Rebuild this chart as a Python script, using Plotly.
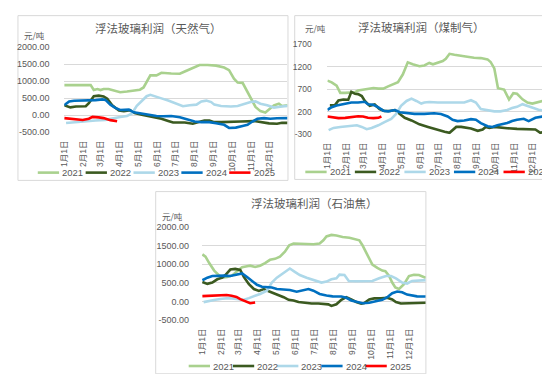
import plotly.graph_objects as go

W, H = 550, 374

years = ["2021", "2022", "2023", "2024", "2025"]
colors = ["#A9D18E", "#3B5A20", "#ADD8E9", "#0070C0", "#FF0000"]

month_days = [0, 31, 59, 90, 120, 151, 181, 212, 243, 273, 304, 334]
month_labels = ["1月1日", "2月1日", "3月1日", "4月1日", "5月1日", "6月1日",
                "7月1日", "8月1日", "9月1日", "10月1日", "11月1日", "12月1日"]

# ---------------- 浮法玻璃利润（天然气） ----------------
ng_2021_d = [0, 43, 48, 54, 59, 64, 72, 81, 91, 102, 113, 123, 129, 140, 150, 158, 174, 188, 196, 209, 220, 233, 247, 260, 268, 276, 282, 290, 298, 311, 319, 327, 341, 349, 354, 363]
ng_2021_v = [880, 880, 735, 765, 735, 765, 765, 717, 670, 690, 727, 746, 812, 1166, 1166, 1243, 1224, 1214, 1280, 1377, 1472, 1472, 1453, 1396, 1320, 1070, 956, 947, 670, 239, 115, 76, 287, 335, 268, 287]
ng_2022_d = [0, 10, 19, 35, 40, 48, 56, 64, 70, 78, 89, 97, 107, 113, 126, 142, 158, 169, 177, 196, 209, 217, 228, 236, 244, 255, 271, 287, 309, 319, 333, 346, 354, 363]
ng_2022_v = [290, 225, 250, 260, 350, 554, 570, 545, 478, 287, 130, 110, 143, 67, 10, -40, -110, -172, -220, -220, -255, -210, -160, -165, -210, -210, -210, -191, -178, -205, -245, -255, -225, -230]
ng_2023_d = [3, 19, 35, 51, 67, 78, 91, 102, 110, 118, 126, 134, 140, 148, 158, 169, 183, 193, 204, 215, 223, 231, 239, 244, 255, 271, 282, 293, 303, 311, 319, 330, 341, 354, 363]
ng_2023_v = [-235, -205, -172, -162, -143, -96, -60, -29, 48, 270, 420, 554, 595, 540, 490, 430, 335, 258, 287, 306, 401, 425, 382, 306, 268, 250, 265, 335, 382, 401, 335, 287, 220, 250, 270]
ng_2024_d = [0, 8, 16, 30, 40, 51, 62, 67, 75, 83, 91, 105, 113, 126, 140, 150, 161, 174, 188, 201, 212, 223, 236, 247, 260, 268, 279, 290, 298, 306, 314, 325, 335, 346, 357, 363]
ng_2024_v = [290, 401, 420, 420, 420, 440, 460, 445, 306, 210, 150, 160, 80, 40, 19, -29, -35, -30, -67, -124, -191, -210, -210, -239, -287, -380, -370, -320, -287, -191, -110, -90, -110, -95, -85, -90]
ng_2025_d = [0, 13, 30, 40, 46, 56, 64, 75, 86]
ng_2025_v = [-90, -115, -145, -110, -55, -70, -90, -150, -185]

# ---------------- 浮法玻璃利润（煤制气） ----------------
cg_2021_d = [0, 7, 15, 21, 29, 37, 45, 50, 58, 66, 75, 83, 91, 99, 107, 115, 123, 131, 139, 150, 158, 166, 172, 180, 188, 193, 199, 207, 218, 228, 239, 250, 261, 266, 272, 278, 288, 296, 303, 309, 318, 326, 334, 342, 353, 365]
cg_2021_v = [890, 850, 777, 618, 618, 618, 633, 669, 690, 712, 727, 712, 712, 763, 813, 857, 1030, 1295, 1253, 1210, 1225, 1282, 1253, 1290, 1325, 1376, 1485, 1463, 1434, 1420, 1398, 1390, 1362, 1304, 1160, 720, 690, 470, 610, 597, 474, 402, 380, 402, 445, 440]
cg_2022_d = [4, 12, 18, 26, 34, 39, 45, 50, 56, 61, 69, 77, 85, 93, 102, 110, 118, 126, 137, 150, 164, 177, 191, 199, 204, 210, 218, 226, 234, 245, 253, 258, 264, 272, 280, 293, 309, 326, 339, 347, 355, 365]
cg_2022_v = [340, 340, 450, 470, 465, 640, 597, 590, 546, 438, 330, 360, 258, 215, 215, 235, 150, 63, 5, -81, -139, -197, -247, -269, -211, -139, -139, -154, -175, -226, -197, -139, -161, -139, -154, -168, -182, -197, -197, -269, -247, -215]
cg_2023_d = [2, 10, 21, 31, 39, 48, 56, 64, 72, 83, 93, 104, 112, 120, 129, 137, 145, 153, 158, 166, 180, 196, 212, 223, 234, 242, 250, 261, 272, 282, 293, 301, 309, 318, 326, 334, 344, 355, 365]
cg_2023_v = [-211, -161, -139, -125, -118, -103, -139, -190, -161, -103, -31, 41, 150, 330, 438, 489, 438, 380, 402, 416, 402, 402, 416, 402, 453, 402, 258, 236, 207, 207, 236, 279, 308, 366, 330, 279, 243, 222, 207]
cg_2024_d = [0, 7, 15, 23, 31, 39, 50, 61, 66, 75, 83, 91, 99, 110, 118, 129, 142, 158, 174, 185, 196, 204, 212, 223, 234, 242, 250, 261, 269, 277, 285, 293, 301, 309, 320, 328, 339, 350, 358, 365]
cg_2024_v = [240, 300, 335, 360, 385, 405, 405, 420, 366, 352, 294, 222, 207, 236, 186, 164, 150, 150, 164, 150, 92, 20, -9, 5, 34, 20, -53, -125, -139, -103, -81, -53, -9, 20, 41, -9, 63, 92, 92, 121]
cg_2025_d = [0, 7, 18, 29, 39, 50, 58, 66, 75, 83, 88]
cg_2025_v = [92, 77, 56, 63, 77, 99, 92, 63, 56, 63, 92]

# ---------------- 浮法玻璃利润（石油焦） ----------------
pc_2021_d = [1, 6, 12, 20, 28, 33, 41, 49, 57, 65, 73, 78, 86, 94, 102, 110, 118, 126, 134, 141, 148, 158, 169, 180, 190, 196, 201, 209, 217, 227, 238, 246, 254, 259, 267, 275, 283, 291, 296, 302, 307, 312, 318, 326, 334, 342, 350, 361]
pc_2021_v = [1260, 1200, 1027, 826, 696, 635, 652, 696, 809, 913, 940, 957, 922, 957, 1027, 1114, 1140, 1200, 1331, 1505, 1550, 1540, 1535, 1531, 1549, 1636, 1740, 1780, 1766, 1723, 1705, 1679, 1636, 1505, 1244, 983, 896, 826, 809, 679, 505, 374, 331, 461, 679, 715, 705, 635]
pc_2022_d = [1, 9, 17, 25, 33, 38, 46, 54, 62, 68, 76, 84, 92, 100, 108, 116, 124, 132, 140, 148, 156, 166, 177, 188, 196, 204, 209, 217, 225, 233, 241, 249, 257, 262, 270, 278, 289, 299, 307, 313, 321, 331, 342, 350, 361]
pc_2022_v = [520, 470, 505, 592, 635, 705, 853, 870, 845, 652, 461, 331, 280, 330, 270, 220, 183, 113, 43, 26, -17, -43, -55, -55, -70, -80, -120, -78, 43, 113, 52, -17, -61, -43, 52, 80, 80, 96, 52, -17, -55, -55, -55, -43, -35]
pc_2023_d = [3, 12, 22, 33, 44, 52, 60, 68, 76, 84, 94, 105, 113, 121, 132, 142, 150, 158, 169, 182, 193, 201, 209, 217, 222, 230, 237, 249, 262, 275, 286, 297, 305, 313, 323, 331, 339, 350, 361]
pc_2023_v = [-20, 15, 43, 70, 87, 70, 52, 43, 87, 130, 200, 287, 505, 635, 766, 880, 792, 705, 635, 566, 505, 531, 592, 618, 715, 705, 548, 540, 540, 548, 618, 679, 679, 618, 505, 479, 548, 566, 570]
pc_2024_d = [1, 9, 17, 25, 36, 46, 57, 65, 73, 81, 89, 97, 105, 113, 121, 132, 142, 153, 164, 172, 180, 190, 201, 211, 225, 233, 241, 249, 259, 270, 281, 291, 299, 307, 315, 323, 331, 339, 347, 361]
pc_2024_v = [566, 635, 679, 690, 690, 679, 722, 748, 652, 548, 444, 392, 374, 374, 331, 313, 305, 261, 305, 331, 287, 200, 157, 135, 130, 96, 26, -17, -50, -35, 0, 43, 113, 218, 265, 244, 183, 157, 135, 130]
pc_2025_d = [1, 14, 28, 40, 48, 56, 62, 70, 78, 86]
pc_2025_v = [140, 150, 165, 170, 150, 120, 60, 0, -50, -30]

ytick_vals_a = [-500, 0, 500, 1000, 1500, 2000]
ytick_text_a = ["-500.00", "0.00", "500.00", "1000.00", "1500.00", "2000.00"]
ytick_vals_b = [-300, 200, 700, 1200, 1700]
ytick_text_b = ["-300", "200", "700", "1200", "1700"]

titles = ["浮法玻璃利润（天然气）", "浮法玻璃利润（煤制气）", "浮法玻璃利润（石油焦）"]
unit = "元/吨"

series = [
    [(ng_2021_d, ng_2021_v), (ng_2022_d, ng_2022_v), (ng_2023_d, ng_2023_v), (ng_2024_d, ng_2024_v), (ng_2025_d, ng_2025_v)],
    [(cg_2021_d, cg_2021_v), (cg_2022_d, cg_2022_v), (cg_2023_d, cg_2023_v), (cg_2024_d, cg_2024_v), (cg_2025_d, cg_2025_v)],
    [(pc_2021_d, pc_2021_v), (pc_2022_d, pc_2022_v), (pc_2023_d, pc_2023_v), (pc_2024_d, pc_2024_v), (pc_2025_d, pc_2025_v)],
]


def px(x):
    return x / W


def py(y):
    return 1 - y / H


# layout geometry (pixels)
charts = [
    dict(plot=(51.7, 277.0, 35.0, 122.3), xr=[0, 363], yr=[-500, 2000],
         tv=ytick_vals_a, tt=ytick_text_a, yfs=9, ylen=12,
         box=(5, 2.7, 277.5, 172), title=(147, 15), unit=(22, 23),
         leg=(25, 164, 48.3)),
    dict(plot=(317.3, 543.3, 32.0, 124.5), xr=[0, 365], yr=[-300, 1700],
         tv=ytick_vals_b, tt=ytick_text_b, yfs=8.5, ylen=13,
         box=(284.3, 2.7, 543.3, 171), title=(412, 14), unit=(305, 15),
         leg=(295, 163.3, 50)),
    dict(plot=(190.5, 416.5, 219.6, 315.5), xr=[0, 361], yr=[-500, 2000],
         tv=ytick_vals_a, tt=ytick_text_a, yfs=9, ylen=10,
         box=(144, 183.5, 416.7, 370.7), title=(304, 195), unit=(161, 209),
         leg=(177.3, 362.7, 44.6)),
]

fig = go.Figure()
shapes = []
annotations = []
grey = "#595959"
tickfont = "Liberation Sans, Arial, Noto Sans CJK SC"

for ci, ch in enumerate(charts):
    sfx = "" if ci == 0 else str(ci + 1)
    for yi, (d, v) in enumerate(series[ci]):
        fig.add_trace(go.Scatter(
            x=d, y=v, mode="lines", name=years[yi], showlegend=False,
            line=dict(color=colors[yi], width=2.6),
            xaxis="x" + sfx, yaxis="y" + sfx))
    x0, x1, y0, y1 = ch["plot"]
    fig.update_layout(**{
        "xaxis" + sfx: dict(
            domain=[px(x0), px(x1)], range=ch["xr"], anchor="y" + sfx,
            tickvals=month_days, ticktext=month_labels, tickangle=-90,
            tickfont=dict(family=tickfont, size=8.5, color=grey),
            showgrid=False, zeroline=False, showline=False,
            ticks="outside", ticklen=4, tickcolor="rgba(0,0,0,0)", fixedrange=True),
        "yaxis" + sfx: dict(
            domain=[py(y1), py(y0)], range=ch["yr"], anchor="x" + sfx,
            tickvals=ch["tv"], ticktext=ch["tt"],
            tickfont=dict(family=tickfont, size=ch["yfs"], color=grey),
            showgrid=True, gridcolor="#D9D9D9", gridwidth=1, zeroline=False,
            showline=False, ticks="outside", ticklen=ch["ylen"],
            tickcolor="rgba(0,0,0,0)", fixedrange=True),
    })
    bx0, by0, bx1, by1 = ch["box"]
    shapes.append(dict(type="rect", xref="paper", yref="paper",
                       x0=px(bx0), x1=px(bx1), y0=py(by1), y1=py(by0),
                       line=dict(color="#D9D9D9", width=1), layer="below"))
    tx, ty = ch["title"]
    annotations.append(dict(text=titles[ci], x=px(tx), y=py(ty), xref="paper", yref="paper",
                            showarrow=False, xanchor="center", yanchor="middle",
                            font=dict(family="Noto Sans CJK SC", size=11.5, color=grey)))
    ux, uy = ch["unit"]
    annotations.append(dict(text=unit, x=px(ux), y=py(uy), xref="paper", yref="paper",
                            showarrow=False, xanchor="center", yanchor="middle",
                            font=dict(family="Noto Sans CJK SC", size=8.5, color=grey)))
    lx, ly, step = ch["leg"]
    for yi, name in enumerate(years):
        s = lx + yi * step
        shapes.append(dict(type="line", xref="paper", yref="paper",
                           x0=px(s), x1=px(s + 21.5), y0=py(ly), y1=py(ly),
                           line=dict(color=colors[yi], width=2.6)))
        annotations.append(dict(text=name, x=px(s + 22.5), y=py(ly), xref="paper", yref="paper",
                                showarrow=False, xanchor="left", yanchor="middle",
                                font=dict(family=tickfont, size=9.5, color=grey)))

fig.update_layout(
    width=W, height=H, margin=dict(l=0, r=0, t=0, b=0),
    paper_bgcolor="white", plot_bgcolor="white",
    shapes=shapes, annotations=annotations, showlegend=False,
)

fig.write_html("out.html")
